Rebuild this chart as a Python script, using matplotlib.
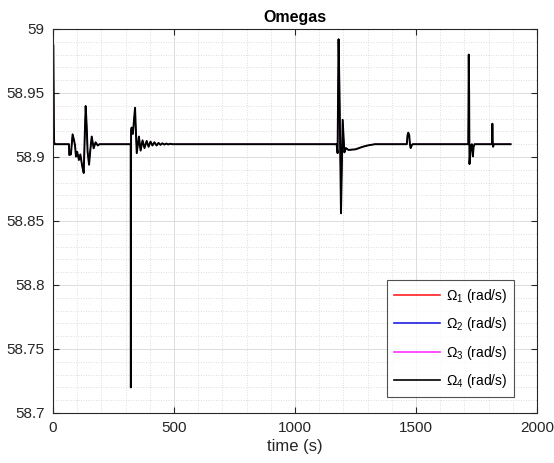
import matplotlib
matplotlib.use('Agg')
from matplotlib import pyplot as plt
from matplotlib.ticker import MultipleLocator

plt.rcParams['font.family'] = ['Liberation Sans', 'DejaVu Sans']
plt.rcParams['mathtext.fontset'] = 'custom'
plt.rcParams['mathtext.rm'] = 'Liberation Sans'
plt.rcParams['mathtext.it'] = 'Liberation Sans'

# time (s) and rotor speed (rad/s)
t = [1.5, 2.5, 3.5, 4.5, 7, 66, 67, 74, 81, 87, 91, 95, 100, 107, 113, 121, 127, 131, 135, 139,
     143, 149, 154, 160, 168, 176, 185, 192,
     321, 321.8, 322.6, 325, 330, 339, 346, 355, 362, 370, 378, 387, 395, 403, 411, 419,
     428, 436, 444, 452, 460, 468, 476, 484, 492, 500, 510,
     1172, 1176, 1180, 1184, 1190, 1197, 1204, 1210, 1221, 1250, 1280, 1300, 1330,
     1462, 1465, 1468, 1472, 1475, 1478, 1482, 1486,
     1716, 1718, 1719.5, 1721, 1724, 1727, 1731, 1735, 1738, 1742,
     1814, 1815.5, 1817, 1818.5, 1821, 1825, 1891]
omega = [58.987, 58.96, 58.925, 58.912, 58.91, 58.91, 58.9016, 58.902, 58.9177, 58.913, 58.909,
         58.9003, 58.904, 58.8977, 58.902, 58.8925, 58.8875, 58.915, 58.9398, 58.925,
         58.904, 58.894, 58.905, 58.916, 58.9068, 58.9115, 58.909, 58.91,
         58.91, 58.72, 58.921, 58.923, 58.918, 58.9385, 58.903, 58.916, 58.905, 58.913, 58.907,
         58.9125, 58.908, 58.912, 58.909, 58.9115, 58.909, 58.911, 58.9095, 58.9107, 58.9097,
         58.9105, 58.9098, 58.9103, 58.91, 58.91, 58.91,
         58.91, 58.903, 58.992, 58.95, 58.856, 58.929, 58.9036, 58.907, 58.9055, 58.906,
         58.908, 58.909, 58.91,
         58.91, 58.917, 58.919, 58.917, 58.91, 58.907, 58.909, 58.91,
         58.91, 58.98, 58.95, 58.8945, 58.903, 58.909, 58.91, 58.9005, 58.908, 58.91,
         58.91, 58.926, 58.912, 58.908, 58.91, 58.91, 58.91]

labels = [r'$\Omega_1$ (rad/s)', r'$\Omega_2$ (rad/s)', r'$\Omega_3$ (rad/s)', r'$\Omega_4$ (rad/s)']
colors = ['#ff2020', '#2020e0', '#ff30ff', 'black']

fig = plt.figure(figsize=(5.54, 4.63), dpi=100)
ax = fig.add_axes([53 / 554, 1 - 413 / 463, 484 / 554, 384 / 463])

# all four rotors give the same curve, black one drawn last on top
lines = []
for lab, c in zip(labels, colors):
    ln, = ax.plot(t, omega, color=c, lw=0.6 if c != 'black' else 1.4, label=lab)
    lines.append(ln)

ax.set_xlim(0, 2000)
ax.set_ylim(58.7, 59)
ax.xaxis.set_major_locator(MultipleLocator(500))
ax.xaxis.set_minor_locator(MultipleLocator(100))
ax.yaxis.set_major_locator(MultipleLocator(0.05))
ax.yaxis.set_minor_locator(MultipleLocator(0.01))
ax.set_yticks([58.7, 58.75, 58.8, 58.85, 58.9, 58.95, 59])
ax.set_yticklabels(['58.7', '58.75', '58.8', '58.85', '58.9', '58.95', '59'])

ax.grid(which='major', color='#dcdcdc', lw=0.7, ls='-')
ax.grid(which='minor', color='#d2d2d2', lw=0.6, ls=(0, (1, 2)))
ax.set_axisbelow(True)

ax.tick_params(which='major', direction='in', length=4, top=True, right=True,
               labelsize=11, colors='#262626', pad=6)
ax.tick_params(which='minor', length=0)
for s in ax.spines.values():
    s.set_color('#262626')
    s.set_linewidth(0.8)

ax.set_title('Omegas', fontsize=11.5, fontweight='bold', pad=5)
ax.set_xlabel('time (s)', fontsize=12, color='#262626', labelpad=3)

leg = ax.legend(loc='lower right', bbox_to_anchor=(0.9525, 0.0417), borderaxespad=0,
                fancybox=False, edgecolor='#262626', fontsize=10, handlelength=3.3,
                labelspacing=0.75, handletextpad=0.4, borderpad=0.5)
leg.get_frame().set_linewidth(0.8)
for h in leg.get_lines():
    h.set_linewidth(1.2)

fig.savefig('out.png', dpi=100)
